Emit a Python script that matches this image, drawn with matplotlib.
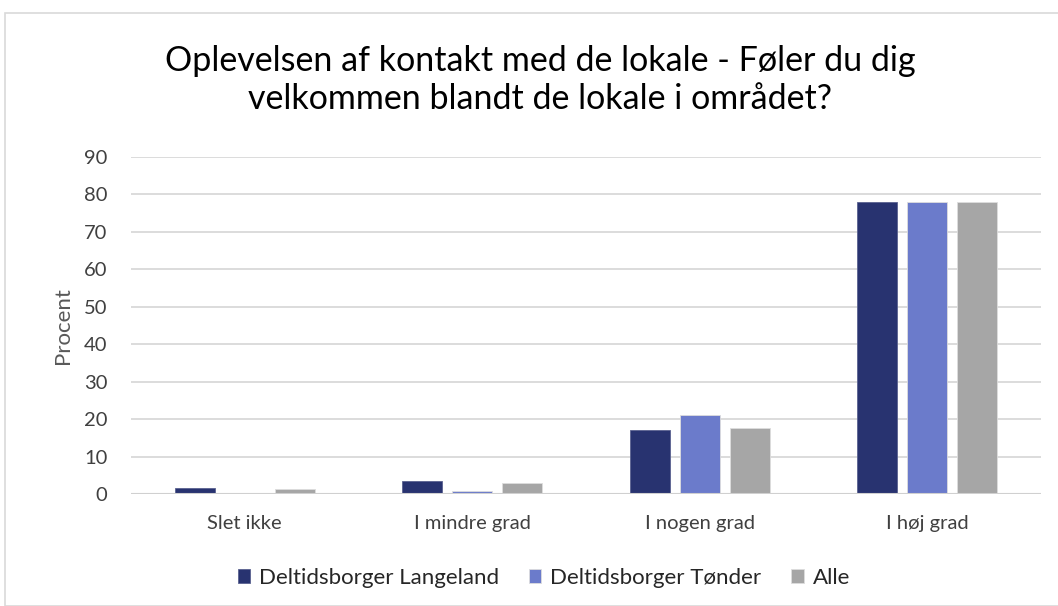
import matplotlib
matplotlib.use("Agg")
import matplotlib.pyplot as plt
import numpy as np
from matplotlib.patches import Rectangle

categories = ["Slet ikke", "I mindre grad", "I nogen grad", "I høj grad"]
series_names = ["Deltidsborger Langeland", "Deltidsborger Tønder", "Alle"]
langeland = [1.6, 3.5, 17.1, 78.0]
tonder = [0.0, 0.9, 21.1, 78.0]
alle = [1.3, 3.0, 17.6, 78.0]
colors = ["#283370", "#6B7BCB", "#A6A6A6"]
yticks = [0, 10, 20, 30, 40, 50, 60, 70, 80, 90]
title = "Oplevelsen af kontakt med de lokale - Føler du dig\nvelkommen blandt de lokale i området?"

plt.rcParams['font.family'] = ['Lato', 'DejaVu Sans']

fig = plt.figure(figsize=(10.58, 6.06), dpi=100)
W, H = 1058, 606
ax = fig.add_axes([131 / W, 1 - 494 / H, (1041 - 131) / W, (494 - 157) / H])

x = np.arange(len(categories))
w = 0.176
step = 0.22
for i, (vals, name, c) in enumerate(zip([langeland, tonder, alle], series_names, colors)):
    ax.bar(x + (i - 1) * step, vals, width=w, color=c, label=name, zorder=3,
           edgecolor="#DDDDDD" if i else "#5a6290", linewidth=0.6)

ax.set_xlim(-0.5, 3.5)
ax.set_ylim(0, 90)
ax.set_yticks(yticks)
ax.set_yticklabels([str(t) for t in yticks], fontsize=14.5, color="#404040")
ax.set_xticks(x)
ax.set_xticklabels(categories, fontsize=14.5, color="#404040")
ax.tick_params(axis='both', length=0)
ax.tick_params(axis='y', pad=17)
ax.tick_params(axis='x', pad=15)
ax.grid(axis='y', color="#D9D9D9", linewidth=1.3, zorder=0)
for s in ax.spines.values():
    s.set_visible(False)
ax.axhline(0, color="#D0D0D0", linewidth=1.5, zorder=4)
ax.set_ylabel("Procent", fontsize=16, color="#595959", labelpad=8)

fig.text(540 / W, 1 - 80 / H, title, ha="center", va="center", fontsize=24.5,
         color="#000000", linespacing=1.25)

leg = fig.legend(loc="center", bbox_to_anchor=(544 / W, 1 - 578 / H), ncol=3,
                 frameon=False, fontsize=16, handlelength=0.55, handleheight=0.55,
                 columnspacing=1.35, handletextpad=0.4)
for t in leg.get_texts():
    t.set_color("#262626")

fig.patches.append(Rectangle((5 / W, 0), 1.2, 1 - 13 / H, transform=fig.transFigure,
                             fill=False, edgecolor="#D9D9D9", linewidth=1.2))

fig.savefig("out.png", dpi=100, facecolor="white")
